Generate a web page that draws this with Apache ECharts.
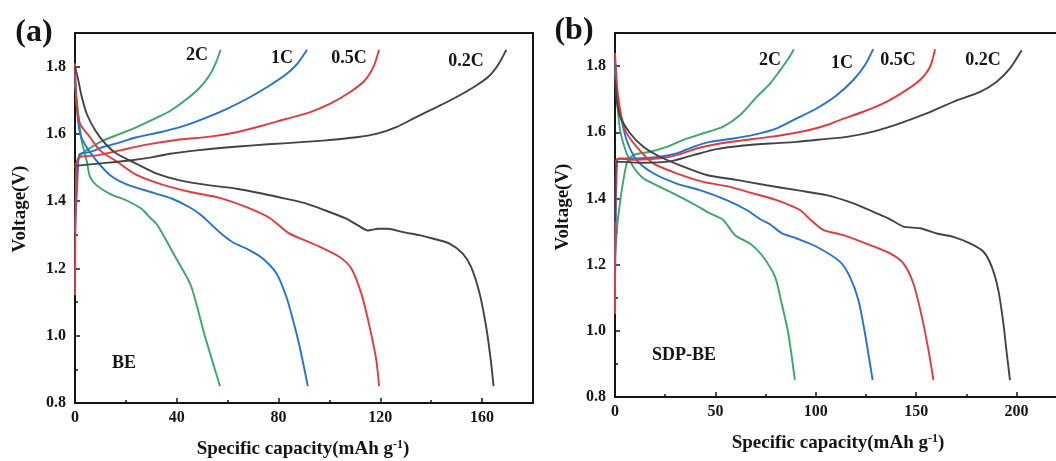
<!DOCTYPE html>
<html>
<head>
<meta charset="utf-8">
<script src="https://cdn.jsdelivr.net/npm/echarts@6/dist/echarts.min.js"></script>
<style>
  html, body { margin: 0; padding: 0; overflow: hidden; background: #fff; }
  #chart { width: 1120px; height: 461px; }
</style>
</head>
<body>
<div id="chart"></div>
<script>
// ---- Galvanostatic charge/discharge profiles, [capacity (mAh/g), voltage (V)] ----

// (a) BE electrolyte
const beCharge2C = [[0,1.50],[0.7,1.515],[2.6,1.54],[5.9,1.558],[11,1.58],[17.7,1.6],[24.2,1.62],[30.7,1.643],[37.3,1.668],[43.8,1.703],[49.1,1.738],[53,1.776],[55.6,1.816],[57.2,1.85]];
const beDischarge2C = [[0,1.75],[1.3,1.66],[2.6,1.58],[4.6,1.52],[5.9,1.472],[8.5,1.447],[13.7,1.422],[20.3,1.402],[26,1.378],[29.4,1.352],[32.5,1.328],[39,1.24],[45.5,1.15],[51,1.0],[57,0.85]];
const beCharge1C = [[0,1.31],[1.2,1.5],[1.8,1.54],[5.9,1.546],[11.1,1.561],[17.7,1.575],[24.2,1.59],[33.4,1.605],[41.2,1.62],[50.4,1.645],[59.5,1.674],[68.7,1.709],[76.5,1.744],[83.1,1.778],[87.5,1.81],[91.2,1.85]];
const beDischarge1C = [[0,1.79],[0.6,1.69],[2,1.6],[4.6,1.56],[8.5,1.52],[13.7,1.478],[20.3,1.45],[29.4,1.428],[38,1.408],[45,1.382],[50,1.356],[54.3,1.325],[58,1.3],[62,1.278],[68.7,1.254],[73.9,1.229],[79.2,1.185],[83.1,1.115],[85.7,1.046],[88.3,0.967],[91.5,0.85]];
const beCharge05C = [[0,1.12],[0.5,1.5],[1.5,1.53],[8.5,1.536],[17.7,1.551],[28.1,1.568],[39.9,1.582],[53,1.592],[63.5,1.605],[73.9,1.625],[83.1,1.645],[92.2,1.664],[100.1,1.689],[108,1.724],[113.8,1.758],[117.5,1.803],[119.5,1.85]];
const beDischarge05C = [[0,1.81],[0.6,1.69],[2,1.63],[5.9,1.59],[9.8,1.551],[16.4,1.518],[24.2,1.478],[34,1.45],[45,1.428],[56.9,1.41],[67.4,1.382],[76.5,1.35],[84,1.305],[94.9,1.269],[104,1.234],[108.6,1.2],[112.5,1.126],[115.8,1.026],[118.4,0.928],[119.5,0.85]];
const beCharge02C = [[0,1.505],[11.1,1.513],[21.6,1.521],[30.7,1.531],[37.3,1.541],[47.8,1.551],[58.2,1.559],[70,1.566],[81.8,1.572],[97.5,1.58],[110.6,1.59],[118.4,1.6],[126.3,1.62],[134.1,1.65],[142,1.679],[149.8,1.709],[157.7,1.744],[162.9,1.773],[166.5,1.808],[169.5,1.85]];
const beDischarge02C = [[0,1.8],[1.3,1.76],[2.5,1.715],[4.6,1.66],[8,1.61],[12,1.57],[16.4,1.541],[24.2,1.511],[32.1,1.482],[41.2,1.462],[53,1.447],[63.5,1.437],[73.9,1.422],[83.1,1.407],[90,1.395],[97.5,1.375],[106.6,1.348],[111.2,1.328],[115.1,1.313],[119.1,1.318],[123,1.318],[128.9,1.308],[135.4,1.299],[140.6,1.289],[147.2,1.274],[152.4,1.244],[155.7,1.204],[159,1.126],[161.6,1.026],[163.4,0.928],[164.5,0.85]];

// (b) SDP-BE electrolyte
const sdpCharge2C = [[0,1.22],[1.6,1.345],[5.8,1.506],[9.1,1.531],[17.4,1.541],[25.7,1.556],[35.7,1.581],[44,1.597],[53.9,1.617],[62.3,1.652],[70.6,1.707],[77.2,1.747],[82.2,1.787],[86.3,1.822],[89.1,1.851]];
const sdpDischarge2C = [[0,1.79],[1,1.7],[2.5,1.607],[5.8,1.536],[9.1,1.496],[14.1,1.461],[22.4,1.435],[32.4,1.405],[40.7,1.378],[47.3,1.355],[53.9,1.335],[59.8,1.289],[67.2,1.264],[73.1,1.229],[79.7,1.163],[83,1.083],[86.3,0.992],[89.6,0.851]];
const sdpCharge1C = [[0,1.12],[1,1.515],[2.5,1.521],[10.8,1.521],[22.4,1.526],[30.7,1.536],[39,1.556],[47.3,1.571],[58.9,1.581],[68.9,1.592],[80.5,1.612],[90.5,1.642],[100.4,1.672],[110.4,1.712],[118.7,1.758],[124.5,1.803],[128.6,1.851]];
const sdpDischarge1C = [[0,1.82],[0.8,1.72],[2.5,1.657],[5.8,1.576],[10.8,1.516],[19.1,1.476],[30.7,1.445],[42.3,1.425],[55.6,1.395],[65.6,1.365],[72.2,1.338],[77.2,1.322],[83,1.295],[90.5,1.279],[100.4,1.254],[112,1.209],[117,1.163],[121.2,1.093],[124.5,0.992],[128.3,0.851]];
const sdpCharge05C = [[0,1.05],[0.5,1.515],[1.6,1.52],[10.8,1.517],[22.4,1.521],[30.7,1.531],[40.7,1.551],[52.3,1.566],[63.9,1.576],[77.2,1.586],[88.8,1.597],[98.7,1.61],[107.1,1.625],[112,1.637],[123.6,1.662],[135.2,1.692],[145.2,1.728],[151.9,1.758],[156.9,1.798],[159.4,1.851]];
const sdpDischarge05C = [[0,1.84],[1.6,1.707],[5,1.607],[10.8,1.556],[19.1,1.506],[30.7,1.476],[44,1.45],[57.3,1.435],[68.9,1.415],[80.5,1.395],[92.1,1.365],[97.1,1.337],[103.7,1.305],[113.7,1.289],[127,1.259],[137,1.234],[143.6,1.204],[148.6,1.143],[152.8,1.043],[156.1,0.942],[158.6,0.851]];
const sdpCharge02C = [[0,1.33],[0.8,1.511],[14.1,1.508],[27.4,1.512],[39,1.531],[50.6,1.549],[63.9,1.56],[77.2,1.566],[90.5,1.571],[105.4,1.58],[115.4,1.586],[128.6,1.602],[141.9,1.627],[155.2,1.657],[168.5,1.692],[181.8,1.722],[190.1,1.753],[196.7,1.793],[202.5,1.848]];
const sdpDischarge02C = [[0,1.76],[1,1.69],[2.5,1.647],[7.5,1.597],[14.1,1.556],[22.4,1.526],[34,1.496],[45.7,1.471],[60.6,1.456],[75.5,1.44],[90.5,1.425],[105.4,1.41],[118.7,1.385],[130.3,1.355],[137,1.337],[143.6,1.315],[151.9,1.31],[160.2,1.294],[168.5,1.284],[176.8,1.264],[183.5,1.239],[187.6,1.194],[190.9,1.123],[193.4,1.023],[195.1,0.932],[196.7,0.851]];

const rateNames = ['2C', '1C', '0.5C', '0.2C'];
const panelTags = ['(a)', '(b)'];
const electrolyteNames = ['BE', 'SDP-BE'];
const xTitle = 'Specific capacity(mAh g{sup|-1})';
const yTitle = 'Voltage(V)';

// ---- styling ----
const FONT = '"Liberation Serif", "Times New Roman", serif';
const INK = '#151515';
const rateColors = { '2C': '#3aa866', '1C': '#2272d9', '0.5C': '#e53a3d', '0.2C': '#434343' };

const panels = [
  { tag: panelTags[0], name: electrolyteNames[0], xMax: 180, xStep: 40,
    grid: { left: 75, top: 33, width: 458, height: 370 },
    curves: { '2C': [beCharge2C, beDischarge2C], '1C': [beCharge1C, beDischarge1C],
              '0.5C': [beCharge05C, beDischarge05C], '0.2C': [beCharge02C, beDischarge02C] } },
  { tag: panelTags[1], name: electrolyteNames[1], xMax: 250, xStep: 50,
    grid: { left: 615, top: 33, width: 502, height: 364 },
    curves: { '2C': [sdpCharge2C, sdpDischarge2C], '1C': [sdpCharge1C, sdpDischarge1C],
              '0.5C': [sdpCharge05C, sdpDischarge05C], '0.2C': [sdpCharge02C, sdpDischarge02C] } }
];

const grids = [], xAxes = [], yAxes = [], series = [];
const axisLineStyle = { show: true, onZero: false, lineStyle: { color: INK, width: 2 } };
const labelStyle = { fontFamily: FONT, fontWeight: 'bold', fontSize: 16, color: INK };

panels.forEach((p, gi) => {
  grids.push(Object.assign({ show: true, borderColor: INK, borderWidth: 2, backgroundColor: '#fff' }, p.grid));
  // labelled major ticks
  xAxes.push({ type: 'value', gridIndex: gi, min: 0, max: p.xMax, interval: p.xStep, position: 'bottom',
    axisLine: axisLineStyle, splitLine: { show: false },
    axisTick: { inside: true, length: 5, lineStyle: { color: INK, width: 1.5 } },
    axisLabel: Object.assign({ margin: 7, showMaxLabel: false }, labelStyle) });
  // unlabelled minor ticks
  xAxes.push({ type: 'value', gridIndex: gi, min: 0, max: p.xMax, interval: p.xStep / 2, position: 'bottom',
    axisLine: { show: false }, splitLine: { show: false }, axisLabel: { show: false },
    axisTick: { inside: true, length: 3, lineStyle: { color: INK, width: 1.5 } } });
  yAxes.push({ type: 'value', gridIndex: gi, min: 0.8, max: 1.9, interval: 0.2, position: 'left',
    axisLine: axisLineStyle, splitLine: { show: false },
    axisTick: { inside: true, length: 5, lineStyle: { color: INK, width: 1.5 } },
    axisLabel: Object.assign({ margin: 9, showMaxLabel: false, formatter: v => v.toFixed(1) }, labelStyle) });
  yAxes.push({ type: 'value', gridIndex: gi, min: 0.8, max: 1.9, interval: 0.1, position: 'left',
    axisLine: { show: false }, splitLine: { show: false }, axisLabel: { show: false },
    axisTick: { inside: true, length: 3, lineStyle: { color: INK, width: 1.5 } } });

  rateNames.forEach(r => {
    p.curves[r].forEach((data, k) => {
      series.push({
        type: 'line', name: r + (k ? ' discharge' : ' charge'),
        xAxisIndex: gi * 2, yAxisIndex: gi * 2,
        data: data, showSymbol: false, symbol: 'none', smooth: 0.25,
        lineStyle: { color: rateColors[r], width: 1.9 }, z: 3
      });
    });
  });
});

function txt(x, y, text, size, extra) {
  return Object.assign({
    type: 'text', x: x, y: y, z: 10,
    style: Object.assign({ text: text, fill: INK, font: 'bold ' + size + 'px ' + FONT,
      align: 'center', verticalAlign: 'middle' }, (extra && extra.style) || {})
  }, extra && extra.rotation ? { rotation: extra.rotation } : {});
}

const richSup = { sup: { fontFamily: FONT, fontWeight: 'bold', fontSize: 12, fill: INK, padding: [0, 0, 8, 0] } };

const graphics = [
  // panel tags
  txt(34, 33, panelTags[0], 32), txt(574, 31, panelTags[1], 32),
  // rate labels, panel (a)
  txt(197, 55, rateNames[0], 18), txt(282, 58, rateNames[1], 18),
  txt(349, 58, rateNames[2], 18), txt(466, 61, rateNames[3], 18),
  // rate labels, panel (b)
  txt(770, 60, rateNames[0], 18), txt(842, 63, rateNames[1], 18),
  txt(898, 60, rateNames[2], 18), txt(983, 60, rateNames[3], 18),
  // electrolyte names
  txt(124, 363, electrolyteNames[0], 18), txt(684, 355, electrolyteNames[1], 18),
  // axis titles
  txt(303, 449, xTitle, 19, { style: { rich: richSup } }),
  txt(838, 443, xTitle, 19, { style: { rich: richSup } }),
  txt(20, 209, yTitle, 19, { rotation: Math.PI / 2 }),
  txt(563, 207, yTitle, 19, { rotation: Math.PI / 2 })
];

const chart = echarts.init(document.getElementById('chart'), null, { renderer: 'canvas' });
chart.setOption({
  animation: false,
  backgroundColor: '#fff',
  grid: grids,
  xAxis: xAxes,
  yAxis: yAxes,
  series: series,
  graphic: graphics
});
</script>
</body>
</html>
